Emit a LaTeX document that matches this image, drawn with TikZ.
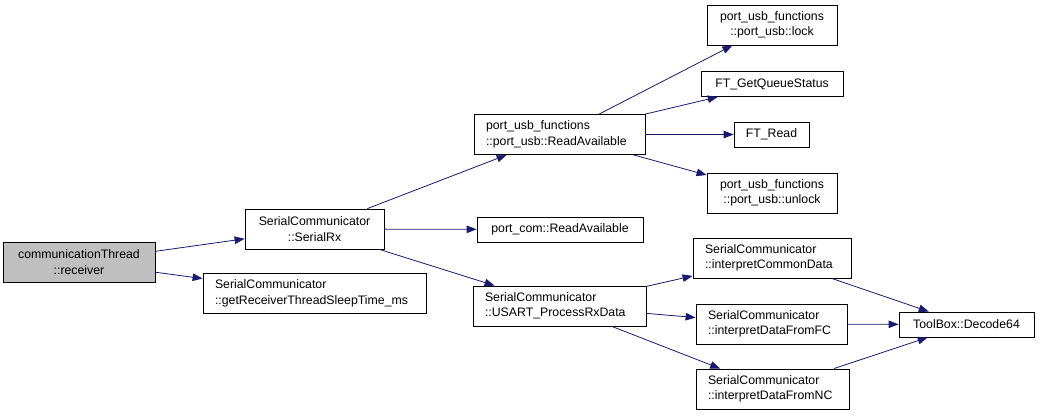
\documentclass[tikz,border=0pt]{standalone}
\usepackage{fontspec}
\setmainfont{Liberation Sans}
\usetikzlibrary{arrows.meta}
\definecolor{edgeblue}{HTML}{191970}
\definecolor{rootgray}{HTML}{BFBFBF}
\newcommand{\fnt}{\fontsize{12.3}{15.5}\selectfont}
\tikzset{
  fn/.style={draw=black, line width=0.8pt, fill=white, inner ysep=0pt, font=\fnt, minimum height=40pt},
  ctr/.style={fn, align=center, inner xsep=0pt, minimum width=#1},
  lft/.style={fn, align=left, inner xsep=12pt, text width=#1-24pt},
  one/.style={minimum height=25pt},
  call/.style={draw=edgeblue, line width=0.8pt, -{Triangle[length=10pt,width=7.5pt]}}
}
\begin{document}
\begin{tikzpicture}[x=1pt,y=-1pt]
\useasboundingbox (0,0) rectangle (1040,415);
\node[ctr=152pt, fill=rootgray] (recv) at (79,262) {communicationThread\\::receiver};
\node[ctr=139pt] (srx) at (314.5,229) {SerialCommunicator\\::SerialRx};
\node[lft=223pt] (sleep) at (314.5,293.5) {SerialCommunicator\\::getReceiverThreadSleepTime\_ms};
\node[lft=171pt] (usbra) at (559.5,134.5) {port\_usb\_functions\\::port\_usb::ReadAvailable};
\node[ctr=166pt, one] (comra) at (560,229.5) {port\_com::ReadAvailable};
\node[lft=173pt] (usart) at (559.5,306) {SerialCommunicator\\::USART\_ProcessRxData};
\node[ctr=130pt] (lock) at (772,25) {port\_usb\_functions\\::port\_usb::lock};
\node[ctr=142pt, one] (gqs) at (772,84) {FT\_GetQueueStatus};
\node[ctr=75pt, one] (ftread) at (771.5,134.5) {FT\_Read};
\node[ctr=130pt] (unlock) at (772,193) {port\_usb\_functions\\::port\_usb::unlock};
\node[lft=158pt] (common) at (772,258) {SerialCommunicator\\::interpretCommonData};
\node[lft=151pt] (fromfc) at (771.5,324) {SerialCommunicator\\::interpretDataFromFC};
\node[lft=153pt] (fromnc) at (772.5,389) {SerialCommunicator\\::interpretDataFromNC};
\node[ctr=135pt, one] (decode) at (966.5,324.5) {ToolBox::Decode64};

\draw[call] (recv) -- (srx);
\draw[call] (recv) -- (sleep);
\draw[call] (srx) -- (usbra);
\draw[call] (srx) -- (comra);
\draw[call] (srx) -- (usart);
\draw[call] (usbra) -- (lock);
\draw[call] (usbra) -- (gqs);
\draw[call] (usbra) -- (ftread);
\draw[call] (usbra) -- (unlock);
\draw[call] (usart) -- (common);
\draw[call] (usart) -- (fromfc);
\draw[call] (usart) -- (fromnc);
\draw[call] (common) -- (decode);
\draw[call] (fromfc) -- (decode);
\draw[call] (fromnc) -- (decode);
\end{tikzpicture}
\end{document}
